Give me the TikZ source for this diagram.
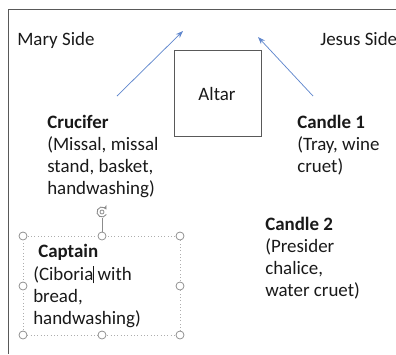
\documentclass[tikz,border=0pt]{standalone}
\usepackage{fontspec}
\setmainfont{Carlito}
\usetikzlibrary{arrows.meta}
\definecolor{arrowblue}{HTML}{4472C4}
\definecolor{framegray}{HTML}{595959}
\definecolor{handlegray}{HTML}{8C8C8C}
\tikzset{
  lbl/.style={anchor=base west, inner sep=0pt, align=left, font=\fontsize{14.2}{16.5}\selectfont, text=black!90},
  dirarrow/.style={draw=arrowblue!85, line width=0.55pt, -{Stealth[length=5.5pt,width=4pt]}},
  handle/.style={circle, draw=handlegray, fill=white, line width=0.55pt, minimum size=6pt, inner sep=0pt},
}
\begin{document}
\begin{tikzpicture}[x=0.75pt, y=-0.75pt]
\useasboundingbox (0,0) rectangle (396,354);
% frame
\draw[framegray, line width=0.7pt] (396,9) -- (8,9) -- (8,354);
% labels
\node[lbl] (mary) at (17,45) {Mary Side};
\node[lbl] (jesus) at (320,45) {Jesus Side};
% altar
\node[draw=framegray, line width=0.7pt, minimum width=65.25pt, minimum height=64.5pt, inner sep=0pt] (altar) at (217.5,93) {};
\node[lbl, anchor=base] (altartxt) at (217,100) {Altar};
% arrows
\coordinate (a1s) at (117,96);
\coordinate (a1e) at (183,31);
\coordinate (a2s) at (313,96);
\coordinate (a2e) at (258,37);
\draw[dirarrow] (a1s) -- (a1e);
\draw[dirarrow] (a2s) -- (a2e);
% crucifer (base anchor = last line baseline)
\node[lbl] (crucifer) at (47,194) {\textbf{Crucifer}\\(Missal, missal\\stand, basket,\\handwashing)};
% candle 1
\node[lbl] (candle1) at (297,172) {\textbf{Candle 1}\\(Tray, wine\\cruet)};
% candle 2
\node[lbl] (candle2) at (265,296) {\textbf{Candle 2}\\(Presider\\chalice,\\water cruet)};
% captain selection box
\coordinate (bnw) at (23,236);
\coordinate (bse) at (180,335);
\draw[handlegray!70, line width=0.5pt, dotted] (bnw) rectangle (bse);
\coordinate (rot) at (102,212);
\coordinate (rotl) at (102,218);
\coordinate (topmid) at (102,236);
\draw[handlegray, line width=0.5pt] (rotl) -- (topmid);
\draw[handlegray, line width=0.7pt, -{Stealth[length=3pt,width=3.5pt]}] ([shift={(30:5)}]rot) arc[start angle=30, end angle=330, radius=5];
\draw[handlegray, line width=0.6pt] (rot) circle[radius=2];
\foreach \n/\x/\y in {h1/23/236, h2/102/236, h3/180/236, h4/23/286, h5/180/286, h6/23/335, h7/102/335, h8/180/335}
  \node[handle] (\n) at (\x,\y) {};
\node[lbl] (captain) at (38,257) {\textbf{Captain}};
\node[lbl] (captxt) at (33,324) {(Ciboria\makebox[0pt]{\rule[-2.5pt]{0.6pt}{13pt}} with\\bread,\\handwashing)};
\end{tikzpicture}
\end{document}
